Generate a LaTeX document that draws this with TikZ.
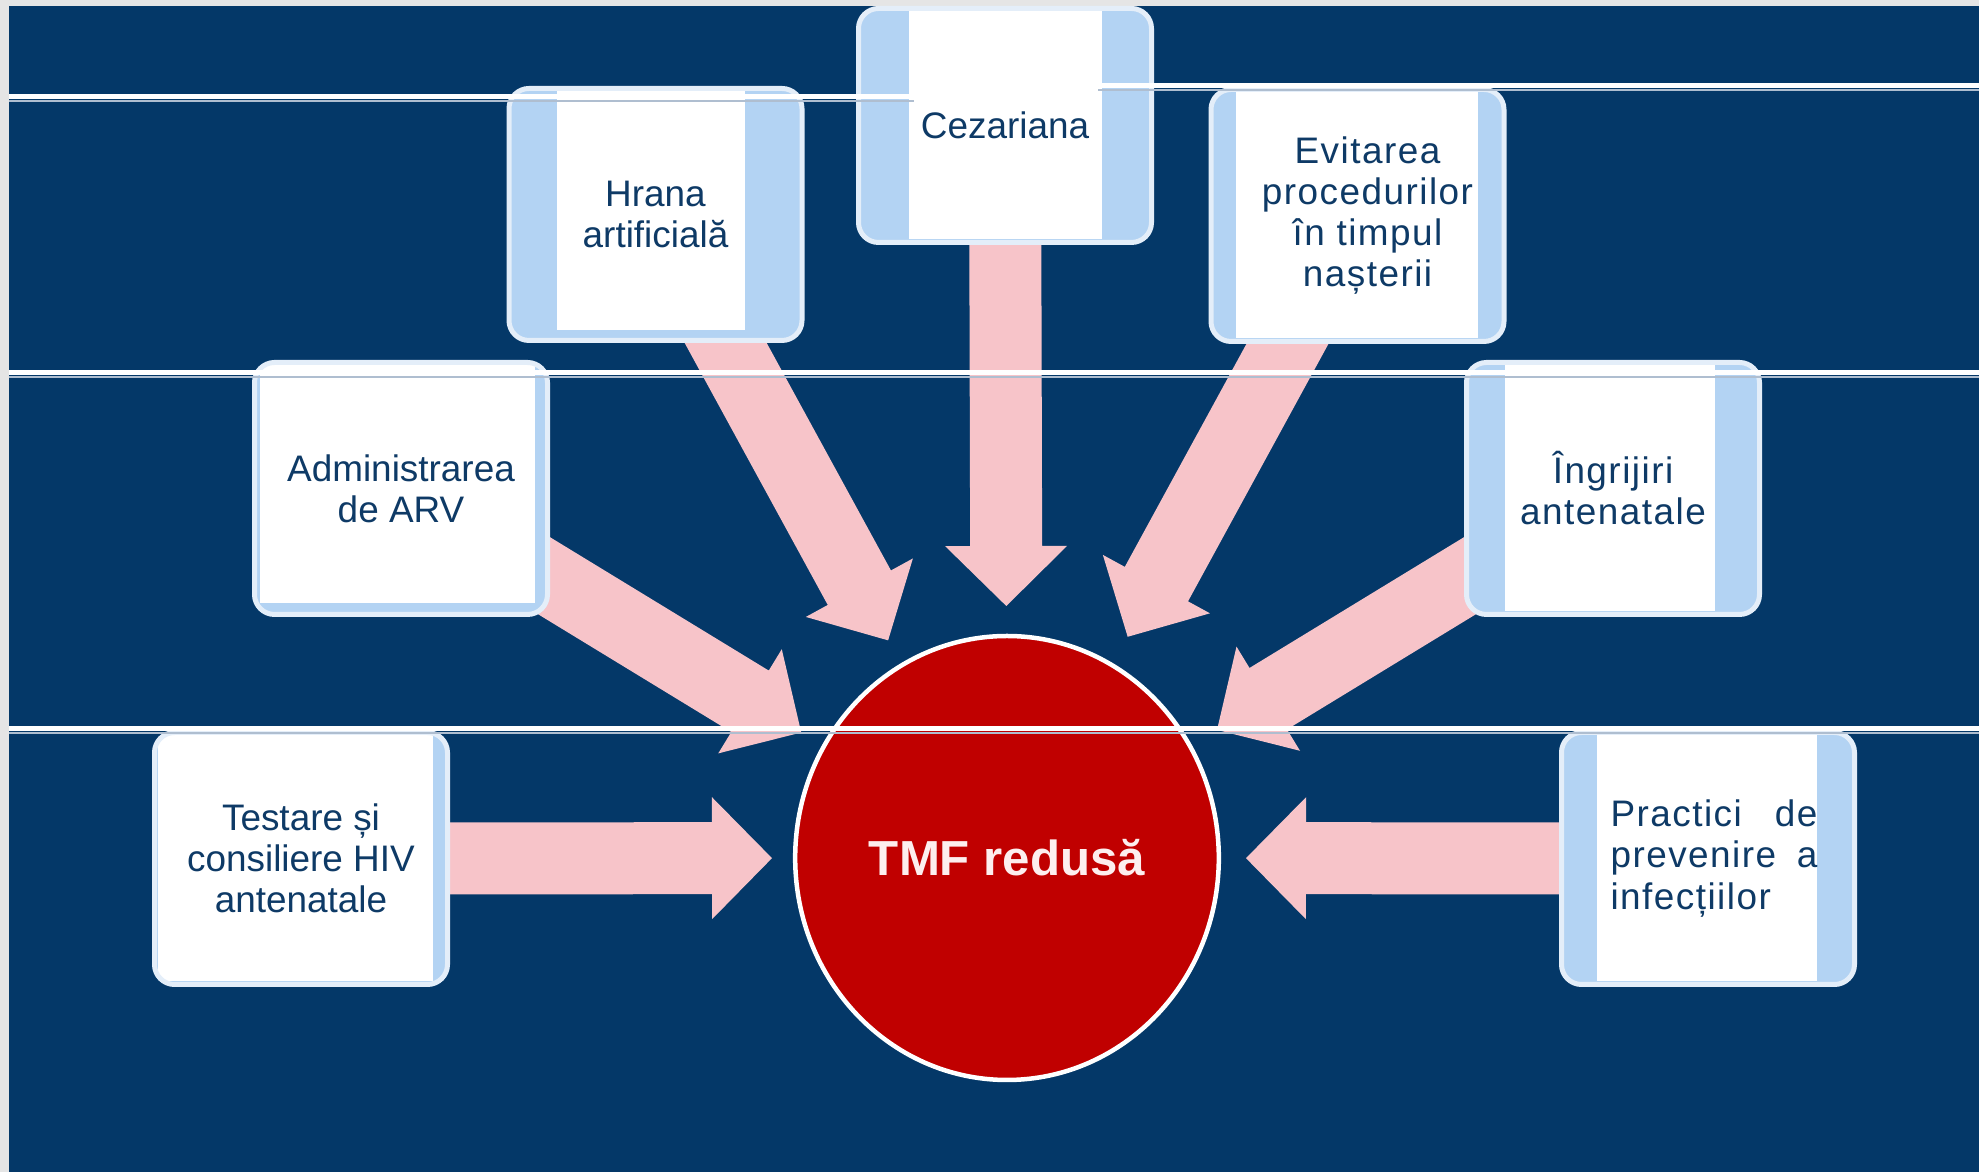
\documentclass[tikz,border=0pt]{standalone}
\usepackage{fontspec}
\setmainfont{Liberation Sans}
\usepackage{xcolor}
\usepackage{tikz}
\usetikzlibrary{arrows.meta, positioning, calc, backgrounds, shapes.geometric}

\definecolor{navybg}{RGB}{4,56,104}
\definecolor{margingray}{RGB}{229,229,229}
\definecolor{stripblue}{RGB}{179,211,243}
\definecolor{rimwhite}{RGB}{228,238,249}
\definecolor{arrowpink}{RGB}{247,196,201}
\definecolor{labelnavy}{RGB}{14,58,102}
\definecolor{tmfred}{RGB}{192,0,0}
\definecolor{tmftext}{RGB}{253,238,238}
\definecolor{seamgray}{RGB}{175,190,208}

\newcommand{\shafthw}{0.36cm}
\newcommand{\headhw}{0.61cm}
\newcommand{\headlen}{0.6cm}

% block arrow from the centre of box #1 towards node #2, tip #3 away from its centre
\newcommand{\pinkarrow}[3]{%
	\fill[arrowpink] let \p1=(#1.center), \p2=($(#2.center)!#3!(#1.center)$),
	\n1={atan2(\y2-\y1,\x2-\x1)} in
	($(\p1)+(\n1+90:\shafthw)$) --
	($(\p2)+(\n1+180:\headlen)+(\n1+90:\shafthw)$) --
	($(\p2)+(\n1+180:\headlen)+(\n1+90:\headhw)$) --
	(\p2) --
	($(\p2)+(\n1+180:\headlen)+(\n1-90:\headhw)$) --
	($(\p2)+(\n1+180:\headlen)+(\n1-90:\shafthw)$) --
	($(\p1)+(\n1-90:\shafthw)$) -- cycle;
}

\begin{document}
\begin{tikzpicture}[
			every node/.style={font=\fontsize{10.5}{11.7}\selectfont},
			optbox/.style n args={3}{
				rectangle, rounded corners=0.2cm,
				draw=rimwhite, fill=stripblue,
				line width=0.05cm, inner sep=0pt,
				minimum width=2.93cm, minimum height=2.52cm,
				align=center, text=labelnavy,
				path picture={\fill[white, sharp corners]
					([shift={(#1,#3)}]path picture bounding box.south west) rectangle
					([shift={(-#2,-0.03cm)}]path picture bounding box.north east);}
			},
			spaced/.style={font=\fontsize{10.5}{11.7}\selectfont\addfontfeatures{LetterSpace=4}},
			hub/.style={
				ellipse, fill=tmfred, draw=white, line width=0.045cm,
				minimum width=4.22cm, minimum height=4.44cm,
				text=tmftext, font=\fontsize{14}{16}\selectfont\bfseries
			},
			seam/.style={draw=white, line width=0.05cm},
			seamshadow/.style={draw=seamgray, line width=0.02cm}
			]
			\useasboundingbox (0,0) rectangle (19.79,11.72);
			
			% Centre
			\node[hub] (tmf) at (10.07,3.14) {TMF redusă};
			
			% Top row
			\node[optbox={0.50cm}{0.50cm}{0.03cm}, minimum height=2.34cm] (cez) at (10.05,10.465) {Cezariana};
			\node[optbox={0.48cm}{0.57cm}{0.10cm}] (hrana) at (6.555,9.575) {Hrana\\artificială};
			\node[optbox={0.25cm}{0.26cm}{0.03cm}, spaced] (evit) at (13.575,9.565) {\hspace*{0.2cm}Evitarea\\\hspace*{0.2cm}procedurilor\\\hspace*{0.2cm}în timpul\\\hspace*{0.2cm}nașterii};
			
			% Middle row
			\node[optbox={0.05cm}{0.13cm}{0.11cm}] (admin) at (4.01,6.835) {Administrarea\\de ARV};
			\node[optbox={0.38cm}{0.45cm}{0.03cm}, spaced] (ingr) at (16.13,6.835) {Îngrijiri\\antenatale};
			
			% Bottom row
			\node[optbox={0.03cm}{0.15cm}{0.03cm}] (test) at (3.01,3.135) {Testare și\\consiliere HIV\\antenatale};
			\node[optbox={0.35cm}{0.38cm}{0.03cm}, spaced, align=left] (pract) at (17.08,3.135)
			{\hspace*{0.12cm}\makebox[2.07cm][s]{Practici de}\\\hspace*{0.12cm}\makebox[2.07cm][s]{prevenire a}\\\hspace*{0.12cm}infecțiilor};
			
			% Backdrop and arrows
			\begin{scope}[on background layer]
				\fill[margingray] (0,0) rectangle (19.79,11.72);
				\fill[navybg] (0.09,0) rectangle (19.79,11.66);
				\pinkarrow{test}{tmf}{2.35cm}
				\pinkarrow{pract}{tmf}{2.39cm}
				\pinkarrow{admin}{tmf}{2.41cm}
				\pinkarrow{ingr}{tmf}{2.46cm}
				\pinkarrow{hrana}{tmf}{2.48cm}
				\pinkarrow{evit}{tmf}{2.52cm}
				\pinkarrow{cez}{tmf}{2.52cm}
			\end{scope}
			
			% Seams
			\draw[seamshadow] (0.09,10.71) -- (9.14,10.71);
			\draw[seam] (0.09,10.75) -- (9.14,10.75);
			\draw[seamshadow] (10.98,10.82) -- (19.79,10.82);
			\draw[seam] (10.98,10.86) -- (19.79,10.86);
			\draw[seamshadow] (0.09,7.95) -- (19.79,7.95);
			\draw[seam] (0.09,7.99) -- (19.79,7.99);
			\draw[seamshadow] (0.09,4.39) -- (19.79,4.39);
			\draw[seam] (0.09,4.43) -- (19.79,4.43);
			
		\end{tikzpicture}
\end{document}
